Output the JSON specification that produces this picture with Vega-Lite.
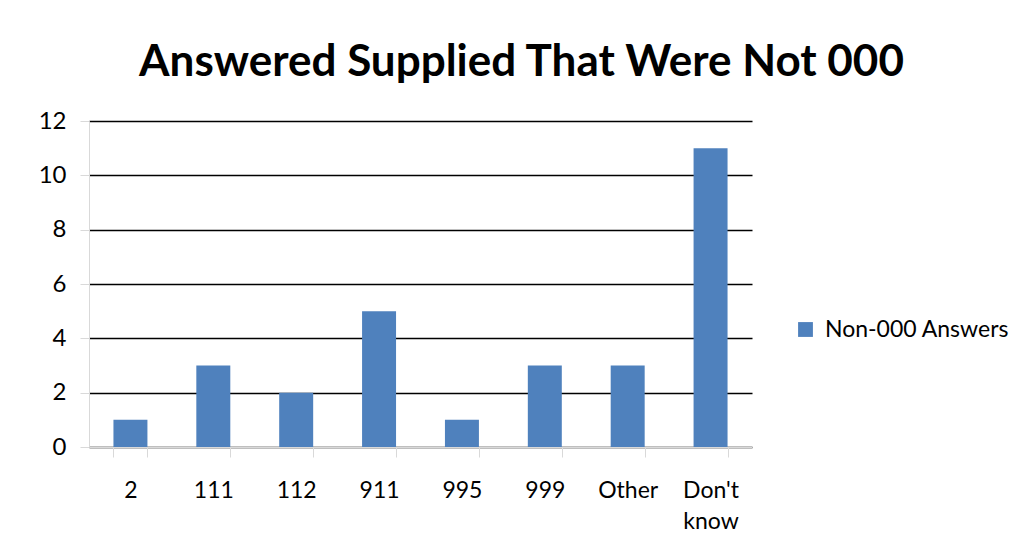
{
  "$schema": "https://vega.github.io/schema/vega-lite/v6.json",
  "width": 663,
  "height": 326,
  "autosize": {"type": "none"},
  "padding": {"left": 89, "top": 121, "right": 275, "bottom": 113},
  "background": "white",
  "title": {
    "text": "Answered Supplied That Were Not 000",
    "font": "Lato",
    "fontSize": 44,
    "fontWeight": "bold",
    "color": "#000000",
    "anchor": "middle",
    "dx": 101,
    "offset": 24
  },
  "config": {
    "view": {"stroke": null},
    "font": "Lato"
  },
  "data": {
    "values": [
      {"answer": "2", "count": 1, "series": "Non-000 Answers"},
      {"answer": "111", "count": 3, "series": "Non-000 Answers"},
      {"answer": "112", "count": 2, "series": "Non-000 Answers"},
      {"answer": "911", "count": 5, "series": "Non-000 Answers"},
      {"answer": "995", "count": 1, "series": "Non-000 Answers"},
      {"answer": "999", "count": 3, "series": "Non-000 Answers"},
      {"answer": "Other", "count": 3, "series": "Non-000 Answers"},
      {"answer": "Don't know", "count": 11, "series": "Non-000 Answers"}
    ]
  },
  "mark": {"type": "bar"},
  "encoding": {
    "x": {
      "field": "answer",
      "type": "nominal",
      "sort": null,
      "scale": {"paddingInner": 0.59, "paddingOuter": 0.295},
      "axis": {
        "title": null,
        "labelAngle": 0,
        "labelFontSize": 23,
        "labelColor": "#000000",
        "labelPadding": 22,
        "labelLineHeight": 31,
        "labelExpr": "datum.value == \"Don't know\" ? [\"Don't\", \"know\"] : datum.value",
        "tickBand": "extent",
        "tickSize": 10,
        "tickColor": "#d9d9d9",
        "domainColor": "#d9d9d9",
        "domainWidth": 1
      }
    },
    "y": {
      "field": "count",
      "type": "quantitative",
      "scale": {"domain": [0, 12]},
      "axis": {
        "title": null,
        "values": [0, 2, 4, 6, 8, 10, 12],
        "labelFontSize": 24,
        "labelColor": "#000000",
        "labelPadding": 14,
        "tickSize": 9,
        "tickColor": "#d9d9d9",
        "domainColor": "#d9d9d9",
        "grid": true,
        "gridColor": "#000000",
        "gridWidth": 1.3
      }
    },
    "color": {
      "field": "series",
      "type": "nominal",
      "scale": {"range": ["#4F81BD"]},
      "legend": {
        "title": null,
        "orient": "none",
        "legendX": 705,
        "legendY": 197,
        "symbolType": "square",
        "symbolSize": 220,
        "symbolStrokeWidth": 0,
        "labelFontSize": 23,
        "labelLimit": 400,
        "labelColor": "#000000",
        "labelOffset": 8
      }
    }
  }
}
